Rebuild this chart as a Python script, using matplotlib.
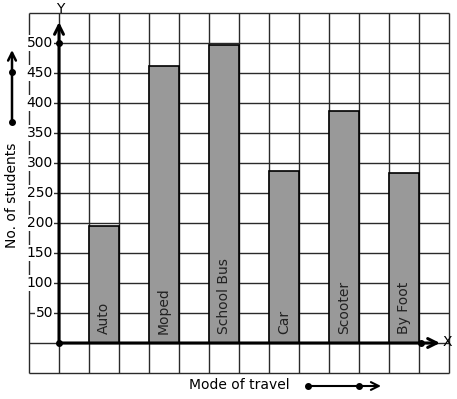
import numpy as np
import matplotlib
matplotlib.use("Agg")
import matplotlib.pyplot as plt

# data
modes = ["Auto", "Moped", "School Bus", "Car", "Scooter", "By Foot"]
students = [195, 461, 496, 287, 387, 283]
y_ticks = [50, 100, 150, 200, 250, 300, 350, 400, 450, 500]

W, H = 457, 399
fig = plt.figure(figsize=(W / 100, H / 100), dpi=100)
ax = fig.add_axes([0, 0, 1, 1])

# one grid column = 30 px = 1 unit, one row = 30 px = 50 students
# y axis at px 59, x axis at px 343
ax.set_xlim(-59 / 30, (W - 59) / 30)
ax.set_ylim(-(H - 343) / 0.6, 343 / 0.6)
ax.axis("off")


def P(x, y):
    # pixel position -> axes fraction (for the loose decorations)
    return (x / W, 1 - y / H)


# graph paper
gc = "#2a2a2a"
ax.vlines(np.arange(-1, 14), -50, 550, color=gc, lw=1, zorder=1)
ax.hlines(np.arange(-50, 551, 50), -1, 13, color=gc, lw=1, zorder=1)

# bars
xpos = 1.5 + 2 * np.arange(len(modes))
ax.bar(xpos, students, width=1, color="#999999", edgecolor="black", lw=1.2, zorder=2)
for x, name in zip(xpos, modes):
    ax.text(x, 15, name, rotation=90, ha="center", va="bottom", fontsize=10,
            color="#222222", zorder=3)

# axes with arrows
arr = dict(arrowstyle="->", lw=2.2, color="black", mutation_scale=16,
           shrinkA=0, shrinkB=0)
ax.annotate("", xy=(0, 535), xytext=(0, 0), arrowprops=arr, zorder=4)
ax.annotate("", xy=(12.7, 0), xytext=(0, 0), arrowprops=arr, zorder=4)
ax.plot([0, 0, 12.05], [0, 500, 0], "o", color="black", ms=4, zorder=5)
ax.text(0.05, 556, "Y", ha="center", va="center", fontsize=10)
ax.text(12.95, 2, "X", ha="center", va="center", fontsize=10)

# tick labels
for t in y_ticks:
    ax.text(-0.2, t, str(t), ha="right", va="center", fontsize=10, zorder=3,
            bbox=dict(boxstyle="square,pad=0.05", fc="white", ec="none"))

# axis titles with little arrows
ax.text(*P(12, 195), "No. of students", transform=ax.transAxes, rotation=90,
        ha="center", va="center", fontsize=10)
ax.annotate("", xy=P(12, 50), xytext=P(12, 122), xycoords="axes fraction",
            arrowprops=dict(arrowstyle="->", lw=1.8, color="black",
                            mutation_scale=14, shrinkA=0, shrinkB=0))
ax.plot([P(12, 122)[0], P(12, 72)[0]], [P(12, 122)[1], P(12, 72)[1]], "o",
        color="black", ms=4, transform=ax.transAxes)

ax.text(*P(239, 385), "Mode of travel", transform=ax.transAxes,
        ha="center", va="center", fontsize=10)
ax.annotate("", xy=P(381, 386), xytext=P(308, 386), xycoords="axes fraction",
            arrowprops=dict(arrowstyle="->", lw=1.5, color="black",
                            mutation_scale=14, shrinkA=0, shrinkB=0))
ax.plot([P(308, 386)[0], P(359, 386)[0]], [P(308, 386)[1], P(359, 386)[1]], "o",
        color="black", ms=4, transform=ax.transAxes)

fig.savefig("out.png", dpi=100)
